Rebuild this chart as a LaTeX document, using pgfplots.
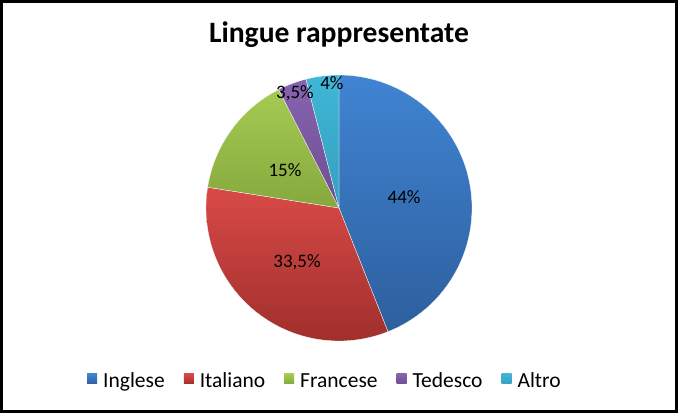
\documentclass[border=0pt]{standalone}
\usepackage{pgfplots}
\pgfplotsset{compat=1.18}
\usepackage{fontspec}
\setmainfont{Carlito}
\definecolor{cAt}{HTML}{4084D2}\definecolor{cAb}{HTML}{2D5F9E}
\definecolor{cBt}{HTML}{D84A47}\definecolor{cBb}{HTML}{A02F2C}
\definecolor{cCt}{HTML}{A5CB52}\definecolor{cCb}{HTML}{86A83E}
\definecolor{cDt}{HTML}{8763AE}\definecolor{cDb}{HTML}{6E4E96}
\definecolor{cEt}{HTML}{40B6D6}\definecolor{cEb}{HTML}{34A0BE}
% values (percent)
\def\vA{44}\def\vB{33.5}\def\vC{15}\def\vD{3.5}\def\vE{4}
\pgfmathsetmacro{\aA}{90}
\pgfmathsetmacro{\aB}{\aA-3.6*\vA}
\pgfmathsetmacro{\aC}{\aB-3.6*\vB}
\pgfmathsetmacro{\aD}{\aC-3.6*\vC}
\pgfmathsetmacro{\aE}{\aD-3.6*\vD}
\pgfmathsetmacro{\aF}{\aE-3.6*\vE}
\begin{document}
\begin{tikzpicture}[x=1pt,y=1pt]
\path[use as bounding box] (0,0) rectangle (678,413);
\draw[line width=2.6pt] (1.3,1.3) rectangle (676.7,411.7);
\node[anchor=base,font=\fontsize{29.6}{32}\selectfont\bfseries] at (339,370) {Lingue rappresentate};
\begin{axis}[
  at={(339pt,205pt)}, anchor=center,
  scale only axis, width=266pt, height=266pt,
  xmin=-1, xmax=1, ymin=-1, ymax=1,
  hide axis,
  legend columns=-1,
  legend style={draw=none, at={(0.447,-0.15)}, anchor=base,
    font=\fontsize{21.5}{24}\selectfont,
    /tikz/every odd column/.append style={column sep=4pt},
    /tikz/every even column/.append style={column sep=17pt},
    nodes={inner sep=2pt}},
  legend image code/.code={\path[#1,draw=none] (0pt,-3pt) rectangle (10pt,7pt);},
  every axis plot/.append style={draw=white, line width=0.3pt, samples=80},
]
\addplot[top color=cAt, bottom color=cAb, domain=\aA:\aB] ({cos(x)},{sin(x)}) -- (0,0) -- cycle;
\addlegendentry{Inglese}
\addplot[top color=cBt, bottom color=cBb, domain=\aB:\aC] ({cos(x)},{sin(x)}) -- (0,0) -- cycle;
\addlegendentry{Italiano}
\addplot[top color=cCt, bottom color=cCb, domain=\aC:\aD] ({cos(x)},{sin(x)}) -- (0,0) -- cycle;
\addlegendentry{Francese}
\addplot[top color=cDt, bottom color=cDb, domain=\aD:\aE] ({cos(x)},{sin(x)}) -- (0,0) -- cycle;
\addlegendentry{Tedesco}
\addplot[top color=cEt, bottom color=cEb, domain=\aE:\aF] ({cos(x)},{sin(x)}) -- (0,0) -- cycle;
\addlegendentry{Altro}
\begin{scope}[every node/.style={font=\fontsize{19}{22}\selectfont, inner sep=0pt}]
\node at (axis cs:0.489,0.083) {44\%};
\node at (axis cs:-0.316,-0.406) {33,5\%};
\node at (axis cs:-0.406,0.286) {15\%};
\node at (axis cs:-0.331,0.865) {3,5\%};
\node at (axis cs:-0.053,0.94) {4\%};
\end{scope}
\end{axis}
\end{tikzpicture}
\end{document}
